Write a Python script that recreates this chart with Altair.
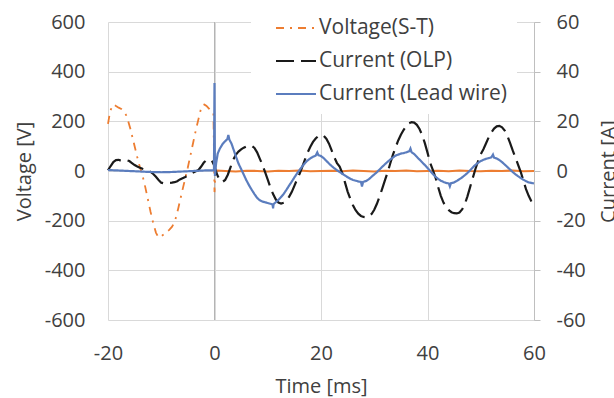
import altair as alt
import pandas as pd

# ---- data ----
series_names = ["Voltage(S-T)", "Current (OLP)", "Current (Lead wire)"]

t_voltage = [-20.0, -19.6, -19.2, -18.9, -18.5, -18.0, -17.5, -17.0, -16.6, -16.2,
             -15.8, -15.4, -15.0, -14.5, -14.0, -13.5, -13.0, -12.5, -12.0, -11.5,
             -11.0, -10.6, -10.3, -10.0, -9.5, -9.0, -8.5, -8.0, -7.6, -7.2,
             -6.8, -6.4, -6.0, -5.5, -5.0, -4.5, -4.0, -3.5, -3.0, -2.6,
             -2.2, -1.9, -1.5, -1.0, -0.6, -0.2, 0.0, 0.15, 0.5, 2.0,
             4.0, 6.0, 8.0, 10.0, 12.0, 14.0, 16.0, 18.0, 20.0, 22.0,
             24.0, 26.0, 28.0, 30.0, 32.0, 34.0, 36.0, 38.0, 40.0, 42.0,
             44.0, 46.0, 48.0, 50.0, 52.0, 54.0, 56.0, 58.0, 60.0]
voltage = [190, 240, 262, 268, 262, 255, 250, 240, 225, 200,
           170, 135, 100, 55, 15, -20, -65, -115, -165, -210,
           -248, -265, -268, -262, -255, -245, -237, -225, -210, -185,
           -150, -112, -75, -30, 15, 65, 115, 165, 210, 245,
           265, 268, 262, 250, 238, 232, -85, -5, 2, 0,
           -2, 1, 0, -2, 1, 0, 2, -1, 0, 1,
           -1, 2, 0, -2, 1, 0, 2, -1, 0, 1,
           -1, 2, 0, -1, 1, 0, 2, -1, 0]

t_olp = [-20.0, -19.5, -19.0, -18.5, -18.0, -17.5, -17.0, -16.5, -16.0, -15.5,
         -15.0, -14.5, -14.0, -13.5, -13.0, -12.5, -12.0, -11.5, -11.0, -10.5,
         -10.0, -9.5, -9.0, -8.5, -8.0, -7.5, -7.0, -6.5, -6.0, -5.5,
         -5.0, -4.5, -4.0, -3.5, -3.0, -2.5, -2.0, -1.5, -1.0, -0.5,
         0.0, 0.5, 1.0, 1.5, 2.0, 2.5, 3.0, 3.5, 4.0, 4.5,
         5.0, 5.5, 6.0, 6.5, 7.0, 7.5, 8.0, 8.5, 9.0, 9.5,
         10.0, 10.5, 11.0, 11.5, 12.0, 12.5, 13.0, 13.5, 14.0, 14.5,
         15.0, 15.5, 16.0, 16.5, 17.0, 17.5, 18.0, 18.5, 19.0, 19.5,
         20.0, 20.5, 21.0, 21.5, 22.0, 22.5, 23.0, 23.5, 24.0, 24.5,
         25.0, 25.5, 26.0, 26.5, 27.0, 27.5, 28.0, 28.5, 29.0, 29.5,
         30.0, 30.5, 31.0, 31.5, 32.0, 32.5, 33.0, 33.5, 34.0, 34.5,
         35.0, 35.5, 36.0, 36.5, 37.0, 37.5, 38.0, 38.5, 39.0, 39.5,
         40.0, 40.5, 41.0, 41.5, 42.0, 42.5, 43.0, 43.5, 44.0, 44.5,
         45.0, 45.5, 46.0, 46.5, 47.0, 47.5, 48.0, 48.5, 49.0, 49.5,
         50.0, 50.5, 51.0, 51.5, 52.0, 52.5, 53.0, 53.5, 54.0, 54.5,
         55.0, 55.5, 56.0, 56.5, 57.0, 57.5, 58.0, 58.5, 59.0, 59.5, 60.0]
i_olp = [0.3, 2.0, 3.6, 4.4, 4.5, 4.1, 4.3, 4.4, 4.0, 3.2,
         2.4, 1.8, 1.3, 0.9, 0.6, 0.2, -0.4, -1.2, -2.3, -3.6,
         -4.7, -5.0, -4.9, -4.8, -4.7, -4.5, -4.1, -3.4, -2.9, -2.4,
         -1.8, -1.2, -0.6, -0.1, 0.4, 1.8, 3.4, 4.4, 4.5, 4.2,
         2.0, -1.5, -3.8, -4.4, -3.6, -1.5, 1.5, 4.5, 6.5, 7.8,
         8.7, 9.4, 9.9, 10.2, 10.1, 9.3, 7.5, 5.0, 2.5, -0.5,
         -3.5, -6.6, -9.3, -11.4, -12.7, -13.1, -12.8, -11.9, -10.4, -8.5,
         -6.0, -3.4, -1.0, 1.8, 4.7, 7.5, 9.8, 11.7, 13.1, 14.1,
         14.5, 14.2, 13.0, 11.0, 8.3, 5.5, 3.2, 1.8, -0.8, -4.6,
         -8.3, -11.2, -13.8, -15.8, -17.2, -18.1, -18.5, -18.6, -18.2, -17.3,
         -15.6, -13.2, -10.3, -7.1, -3.8, -0.6, 3.0, 6.5, 9.5, 12.3,
         14.6, 16.5, 18.0, 19.2, 19.7, 19.5, 18.6, 16.9, 14.5, 11.2,
         7.4, 3.3, 0.5, -2.6, -6.5, -10.0, -12.7, -14.6, -15.8, -16.6,
         -17.0, -17.1, -16.7, -15.5, -13.4, -10.2, -6.5, -2.8, 0.8, 4.0,
         6.8, 8.8, 11.2, 13.6, 15.6, 17.1, 18.0, 18.2, 17.6, 16.3,
         14.1, 11.3, 8.3, 5.5, 2.6, -0.3, -3.8, -7.3, -10.0, -12.2, -14.2]

t_lead = [-20.0, -18.0, -16.0, -14.0, -12.0, -10.0, -8.0, -6.0, -4.0, -2.0,
          -0.5, -0.1, 0.0, 0.08, 0.3, 0.6, 1.0, 1.5, 2.0, 2.4,
          2.6, 2.8, 3.2, 3.6, 4.0, 4.5, 5.0, 5.5, 6.0, 6.5,
          7.0, 7.5, 8.0, 8.5, 9.0, 9.5, 10.0, 10.5, 10.9, 11.0,
          11.1, 11.5, 12.0, 12.5, 13.0, 13.5, 14.0, 14.5, 15.0, 15.5,
          16.0, 16.5, 17.0, 17.5, 18.0, 18.5, 19.0, 19.3, 19.5, 20.0,
          20.5, 21.0, 21.5, 22.0, 22.5, 23.0, 23.5, 24.0, 24.5, 25.0,
          25.5, 26.0, 26.5, 27.0, 27.5, 27.7, 27.9, 28.5, 29.0, 29.5,
          30.0, 30.5, 31.0, 31.5, 32.0, 32.5, 33.0, 33.5, 34.0, 34.5,
          35.0, 35.5, 36.0, 36.6, 36.8, 37.0, 37.5, 38.0, 38.5, 39.0,
          39.5, 40.0, 40.5, 41.0, 41.5, 42.0, 42.5, 43.0, 43.5, 44.0,
          44.2, 44.4, 45.0, 45.5, 46.0, 46.5, 47.0, 47.5, 48.0, 48.5,
          49.0, 49.5, 50.0, 50.5, 51.0, 51.5, 52.0, 52.3, 52.5, 53.0,
          53.5, 54.0, 54.5, 55.0, 55.5, 56.0, 56.5, 57.0, 57.5, 58.0,
          58.5, 59.0, 59.5, 60.0]
i_lead = [0.4, 0.2, 0.0, -0.2, -0.4, -0.5, -0.4, -0.2, 0.0, 0.2,
          0.3, 0.2, 35.4, -2.0, 3.0, 7.0, 9.0, 10.8, 12.0, 12.8,
          14.5, 12.6, 11.0, 8.5, 6.0, 3.0, 0.8, -1.5, -3.8, -5.8,
          -7.6, -9.3, -10.8, -11.8, -12.3, -12.6, -12.9, -13.2, -13.5, -15.0,
          -13.3, -12.6, -11.6, -10.5, -9.2, -7.6, -5.9, -4.3, -2.6, -1.0,
          0.5, 1.9, 3.2, 4.3, 5.1, 5.7, 6.2, 7.5, 6.4, 6.0,
          5.2, 4.1, 3.0, 2.0, 1.1, 0.3, -0.4, -1.1, -1.8, -2.5,
          -3.1, -3.6, -3.9, -4.2, -4.4, -6.2, -4.4, -4.0, -3.3, -2.3,
          -1.4, -0.5, 0.6, 1.7, 2.7, 3.7, 4.6, 5.4, 6.2, 6.6,
          7.0, 7.2, 7.5, 8.0, 9.0, 7.6, 6.8, 5.7, 4.6, 3.5,
          2.4, 1.2, 0.0, -1.2, -2.3, -3.2, -3.9, -4.4, -4.8, -5.0,
          -6.2, -4.9, -4.6, -4.0, -3.3, -2.6, -1.7, -0.8, 0.3, 1.4,
          2.5, 3.3, 4.0, 4.5, 4.9, 5.2, 5.5, 6.6, 5.4, 5.0,
          4.4, 3.6, 2.6, 1.6, 0.6, -0.4, -1.3, -2.1, -2.8, -3.5,
          -4.1, -4.6, -4.8, -5.0]

x_ticks = [-20, 0, 20, 40, 60]
v_ticks = [-600, -400, -200, 0, 200, 400, 600]
i_ticks = [-60, -40, -20, 0, 20, 40, 60]

colors = ["#ED7D31", "#1A1A1A", "#5B7DBE"]
dashes = [[8, 6, 2, 6], [18, 7], [1, 0]]

# ---- tables ----
df_v = pd.DataFrame({"t": t_voltage, "value": voltage, "series": series_names[0]})
df_v_pre = df_v[df_v["t"] <= 0.15]
df_v_post = df_v[df_v["t"] >= 0.15]
df_olp = pd.DataFrame({"t": t_olp, "value": i_olp, "series": series_names[1]})
df_lead = pd.DataFrame({"t": t_lead, "value": i_lead, "series": series_names[2]})

FONT = "Open Sans"
TXT = "#404040"
GRID = "#D9D9D9"
HYPHEN = "replace(datum.label, '\u2212', '-')"

x_enc = alt.X("t:Q", scale=alt.Scale(domain=[-20, 60], nice=False),
              axis=alt.Axis(values=x_ticks, title="Time [ms]", grid=True, gridColor=GRID,
                            domain=False, ticks=False, labelPadding=39, labelFlush=False,
                            labelBaseline="alphabetic", labelFontSize=20, labelExpr=HYPHEN,
                            titleFontSize=20, titleFontWeight="normal",
                            titleBaseline="alphabetic", titleY=72))

color_enc = alt.Color("series:N", scale=alt.Scale(domain=series_names, range=colors),
                      legend=alt.Legend(orient="none", legendX=143, legendY=-25, title=None,
                                        padding=10, fillColor="white", symbolType="stroke",
                                        symbolSize=1600, symbolStrokeWidth=2,
                                        symbolOffset=14, labelOffset=2, labelFontSize=21,
                                        rowPadding=2, labelColor=TXT, labelLimit=400))
dash_enc = alt.StrokeDash("series:N", scale=alt.Scale(domain=series_names, range=dashes),
                          legend=None)

zero_rule = alt.Chart(df_v).mark_rule(color="#B4B4B4", strokeWidth=1).encode(x=alt.datum(0))

v_scale = alt.Scale(domain=[-600, 600], nice=False)
v_axis = alt.Axis(values=v_ticks, title="Voltage [V]", orient="left", grid=True,
                  gridColor=GRID, domain=False, ticks=False, labelPadding=23,
                  labelFontSize=20, labelExpr=HYPHEN, titleFontSize=20,
                  titleFontWeight="normal", titleAngle=270, titleBaseline="alphabetic",
                  titleX=-78, titleY=149, titleAlign="center")

v_line = alt.Chart(df_v_pre).mark_line(strokeWidth=1.8).encode(
    x=x_enc, y=alt.Y("value:Q", scale=v_scale, axis=v_axis),
    color=color_enc, strokeDash=dash_enc)
v_line_post = alt.Chart(df_v_post).mark_line(strokeWidth=2.2).encode(
    x=x_enc, y=alt.Y("value:Q", scale=v_scale, axis=v_axis),
    color=color_enc)

i_axis = alt.Axis(values=i_ticks, title="Current [A]", orient="right", grid=False,
                  domain=True, domainColor="#BFBFBF", ticks=True, tickColor="#BFBFBF",
                  tickSize=6, labelPadding=16, labelFontSize=20, labelExpr=HYPHEN,
                  titleFontSize=20, titleFontWeight="normal", titleAngle=270,
                  titleBaseline="alphabetic", titleX=80, titleY=149, titleAlign="center")
i_scale = alt.Scale(domain=[-60, 60], nice=False)

olp_line = alt.Chart(df_olp).mark_line(strokeWidth=2.2).encode(
    x=x_enc, y=alt.Y("value:Q", scale=i_scale, axis=i_axis),
    color=color_enc, strokeDash=dash_enc)
lead_line = alt.Chart(df_lead).mark_line(strokeWidth=2.2).encode(
    x=x_enc, y=alt.Y("value:Q", scale=i_scale, axis=i_axis),
    color=color_enc, strokeDash=dash_enc)

chart = alt.layer(
    alt.layer(zero_rule, v_line, v_line_post),
    alt.layer(olp_line, lead_line),
).resolve_scale(y="independent").properties(
    width=426, height=298,
    autosize=alt.AutoSizeParams(type="none"),
    padding={"left": 108, "top": 22, "right": 80, "bottom": 78},
).configure(font=FONT).configure_axis(
    labelColor=TXT, titleColor=TXT
).configure_view(stroke=None)

chart.save("out.html", embed_options={"renderer": "svg", "actions": False})
